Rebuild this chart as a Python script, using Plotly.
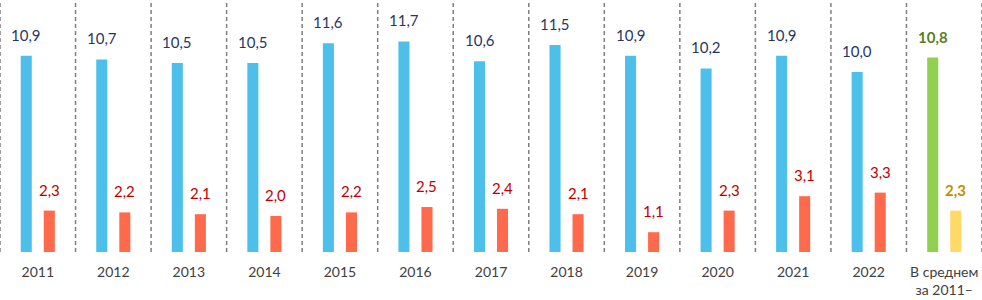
import plotly.graph_objects as go

categories = ["2011", "2012", "2013", "2014", "2015", "2016", "2017", "2018",
              "2019", "2020", "2021", "2022", "В среднем<br>за 2011–"]
series_a = [10.9, 10.7, 10.5, 10.5, 11.6, 11.7, 10.6, 11.5, 10.9, 10.2, 10.9, 10.0, 10.8]
series_b = [2.3, 2.2, 2.1, 2.0, 2.2, 2.5, 2.4, 2.1, 1.1, 2.3, 3.1, 3.3, 2.3]

n = len(categories)
xs = list(range(n))

col_a = ["#4CC0EA"] * (n - 1) + ["#92D050"]
col_b = ["#FF6A4C"] * (n - 1) + ["#FFD966"]
lab_a = ["#1F3864"] * (n - 1) + ["#5B7F1E"]
lab_b = ["#C00000"] * (n - 1) + ["#BF9000"]

fig = go.Figure()
fig.add_trace(go.Bar(x=xs, y=series_a, marker=dict(color=col_a, line=dict(width=0)), showlegend=False))
fig.add_trace(go.Bar(x=xs, y=series_b, marker=dict(color=col_b, line=dict(width=0)), showlegend=False))

def fmt(v):
    return f"{v:.1f}".replace(".", ",")

annotations = []
for i in range(n):
    last = i == n - 1
    for vals, cols, shift in ((series_a, lab_a, -11.5), (series_b, lab_b, 11.5)):
        txt = fmt(vals[i])
        if last:
            txt = "<b>" + txt + "</b>"
        annotations.append(dict(
            x=xs[i], y=vals[i], xref="x", yref="y", text=txt, showarrow=False,
            xshift=shift, yshift=10, yanchor="bottom", xanchor="center",
            font=dict(family="Lato", size=15, color=cols[i])))

shapes = []
for i in range(n + 1):
    shapes.append(dict(type="line", xref="x", yref="paper", x0=i - 0.5, x1=i - 0.5,
                       y0=0, y1=1, line=dict(color="#7F7F7F", width=1.5, dash="4px,3px")))

fig.update_layout(
    width=982, height=300,
    margin=dict(l=0, r=0, t=0, b=48, autoexpand=False),
    paper_bgcolor="white", plot_bgcolor="white",
    barmode="group", bargap=0.39, bargroupgap=0.52,
    annotations=annotations, shapes=shapes,
    xaxis=dict(range=[-0.5, n - 0.5], tickmode="array", tickvals=xs, ticktext=categories,
               showgrid=False, zeroline=False, showline=False, ticks="", automargin=False,
               tickfont=dict(family="Lato", size=14, color="#404040"), ticklabelstandoff=10),
    yaxis=dict(range=[0, 14], visible=False, showgrid=False, zeroline=False, automargin=False),
)

fig.write_html("out.html", config={"displayModeBar": False},
               post_script="document.body.style.margin='0';document.body.style.padding='0';")
